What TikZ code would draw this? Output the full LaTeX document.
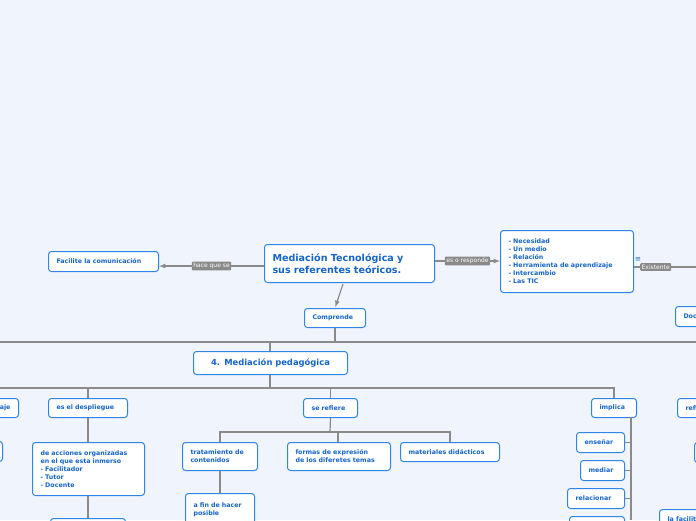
\documentclass[tikz,border=0pt]{standalone}
\usepackage{fontspec}
\setmainfont{DejaVu Sans}
\usetikzlibrary{positioning}
\definecolor{bgcol}{HTML}{F0F4FC}
\definecolor{boxline}{HTML}{2D86E6}
\definecolor{boxtext}{HTML}{1565C8}
\definecolor{linkcol}{HTML}{8A8A8A}
\begin{document}
\begin{tikzpicture}[%
		x=1pt, y=-1pt,
		>=latex,
		box/.style={%
			draw=boxline,
			fill=white,
			line width=1pt,
			rounded corners=3pt,
			text=boxtext,
			font=\bfseries\fontsize{6.3}{8}\selectfont,
			align=left,
			anchor=north west,
			inner xsep=0pt,
			inner ysep=2pt,
			text width=#1-16pt,
			minimum width=#1
		},
		box/.default=60pt,
		tag/.style={%
			fill=linkcol,
			text=white,
			font=\fontsize{6}{7}\selectfont,
			rounded corners=1pt,
			inner sep=1.5pt
		},
		link/.style={%
			draw=linkcol,
			line width=1.2pt
		}
		]
		\fill[bgcol] (0,0) rectangle (696,520);
		\useasboundingbox (0,0) rectangle (696,520);
		
		% top row
		\node[box=170pt, minimum height=38pt,
			font=\bfseries\fontsize{9.6}{11.5}\selectfont] (title) at (264,244)
			{Mediación Tecnológica y\\sus referentes teóricos.};
		\node[box=110pt, minimum height=20pt] (facil) at (48,251) {Facilite la comunicación};
		\node[box=133pt, minimum height=62pt] (list) at (500,230)
			{- Necesidad\\- Un medio\\- Relación\\- Herramienta de aprendizaje\\- Intercambio\\- Las TIC};
		\node[box=61pt, minimum height=19pt] (compr) at (304,308) {Comprende};
		\node[box=50pt, minimum height=20pt] (doc) at (675,306) {Docente};
		\node[text=boxtext, font=\fontsize{7}{7}\selectfont] (menu) at (638,260) {≡};
		\coordinate (redge) at (696,267);
		
		\draw[link, ->] (title.west |- 0,266) -- node[tag] {hace que se} (facil.east |- 0,266);
		\draw[link, ->] (title.east |- 0,261) -- node[tag] {es o responde} (list.west |- 0,261);
		\draw[link] (list.east |- redge) -- node[tag, pos=0.35] {Existente} (redge);
		\draw[link, ->, shorten >=1pt] (343,284) -- (compr.north);
		
		% level 4
		\node[box=154pt, minimum height=23pt, align=center,
			font=\bfseries\fontsize{8.4}{10}\selectfont] (med) at (193,351) {4. Mediación pedagógica};
		\coordinate (bar1) at (270,342);
		\draw[link] (0,342) -- (696,342);
		\draw[link] (compr.south) -- (compr.south |- bar1);
		\draw[link] (bar1) -- (med.north -| bar1);
		
		\node[box=60pt, minimum height=19pt, align=right] (aje) at (-42,398) {aje};
		\node[box=79pt, minimum height=19pt] (despl) at (48,398) {es el despliegue};
		\node[box=54pt, minimum height=19pt] (refiere) at (303,398) {se refiere};
		\node[box=45pt, minimum height=19pt] (impl) at (591,398) {implica};
		\node[box=50pt, minimum height=19pt] (refr) at (677,398) {refiere};
		\coordinate (bar2) at (270,388);
		\draw[link] (0,388) -- (614,388) -- (impl.north);
		\draw[link] (med.south -| bar2) -- (bar2);
		\draw[link] (despl.north) -- (despl.north |- bar2);
		\draw[link] (refiere.north) -- (refiere.north |- bar2);
		
		% es el despliegue
		\node[box=112pt, minimum height=53pt] (acc) at (32,442)
			{de acciones organizadas\\en el que esta inmerso\\- Facilitador\\- Tutor\\- Docente};
		\node[box=75pt, minimum height=20pt] (accsub) at (50,518) {};
		\node[box=40pt, minimum height=20pt] (lsliver) at (-38,441) {};
		\draw[link] (despl.south) -- (acc.north -| despl.south);
		\draw[link] (acc.south -| 88,0) -- (accsub.north -| 88,0);
		
		% se refiere
		\node[box=75pt, minimum height=28pt] (trat) at (182,442) {tratamiento de\\contenidos};
		\node[box=103pt, minimum height=28pt] (formas) at (287,442) {formas de expresión\\de los diferetes temas};
		\node[box=99pt, minimum height=19pt] (mat) at (400,442) {materiales didácticos};
		\node[box=69pt, minimum height=32pt] (afin) at (185,493) {a fin de hacer\\posible};
		\coordinate (bar3) at (330,432);
		\draw[link] (refiere.south) -- (bar3);
		\draw[link] (trat.north) |- (bar3) -| (mat.north);
		\draw[link] (formas.north -| 338,0) -- (338,432);
		\draw[link] (trat.south) -- (afin.north -| trat.south);
		
		% implica
		\node[box=48pt, minimum height=20pt] (ens) at (576,432) {enseñar};
		\node[box=44pt, minimum height=20pt] (mediar) at (580,460) {mediar};
		\node[box=57pt, minimum height=20pt] (rel) at (567,488) {relacionar};
		\node[box=55pt, minimum height=20pt] (impsub) at (569,516) {};
		\draw[link] (631,417) -- (631,520);
		\foreach \n in {ens,mediar,rel} \draw[link] (\n.east) -- (\n.east -| 631,0);
		
		% right side
		\node[box=40pt, minimum height=20pt] (rsliver) at (694,442) {};
		\node[box=60pt, minimum height=20pt] (lafac) at (659,509) {la facilita};
\end{tikzpicture}
\end{document}
